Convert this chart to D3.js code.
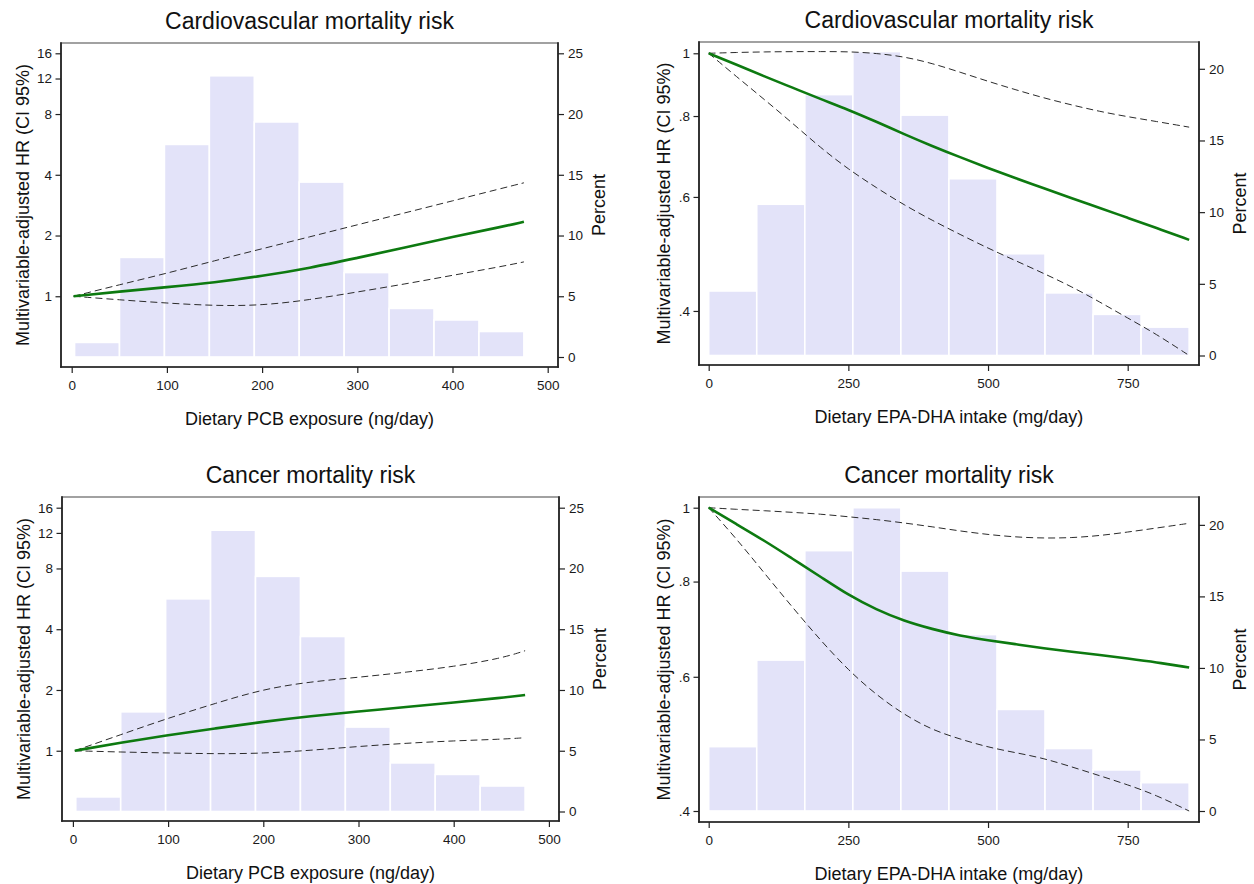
<!DOCTYPE html>
<html>
<head>
<meta charset="utf-8">
<script src="https://cdn.jsdelivr.net/npm/d3@7"></script>
<style>
	body { margin: 0; background: #fff; }
	svg { display: block; font-family: "Liberation Sans", Arial, sans-serif; }
	.tick text { font-size: 13.5px; font-family: "Liberation Sans", Arial, sans-serif; fill: #1a1a1a; }
	.tick line { stroke: #222; stroke-width: 1.2; }
	.titel { font-size: 23px; fill: #111; }
	.as-label { font-size: 18px; fill: #111; }
</style>
</head>
<body>
<svg width="1254" height="884"></svg>
<script>
// histogram bins (edges) and percentages
const pcbEdges = [3, 50.2, 97.4, 144.6, 191.8, 239, 286.2, 333.4, 380.6, 427.8, 475];
const pcbPercent = [1.2, 8.2, 17.5, 23.15, 19.35, 14.4, 6.95, 4.0, 3.05, 2.1];

const epaEdges = [0, 86, 172, 258, 344, 430, 516, 602, 688, 774, 860];
const epaPercent = [4.5, 10.55, 18.2, 21.2, 16.77, 12.33, 7.1, 4.37, 2.87, 1.98];

// spline curves, PCB exposure (ng/day)
const pcbX = [2, 50, 100, 150, 200, 250, 300, 350, 400, 450, 475];
const cvdPcbHR = [1.0, 1.055, 1.11, 1.17, 1.26, 1.38, 1.55, 1.74, 1.97, 2.2, 2.34];
const cvdPcbHi = [1.0, 1.14, 1.30, 1.50, 1.72, 1.97, 2.26, 2.59, 2.97, 3.41, 3.65];
const cvdPcbLo = [1.0, 0.96, 0.925, 0.897, 0.90, 0.96, 1.05, 1.15, 1.27, 1.40, 1.48];

const canPcbHR = [1.0, 1.096, 1.196, 1.291, 1.393, 1.486, 1.565, 1.647, 1.735, 1.828, 1.89];
const canPcbHi = [1.0, 1.20, 1.45, 1.72, 2.02, 2.20, 2.31, 2.45, 2.61, 2.87, 3.13];
const canPcbLo = [1.0, 0.985, 0.975, 0.965, 0.97, 1.005, 1.05, 1.09, 1.12, 1.14, 1.16];

// spline curves, EPA-DHA intake (mg/day)
const epaX = [0, 50, 100, 150, 200, 250, 300, 350, 400, 450, 500, 550, 600, 650, 700, 750, 800, 860];
const cvdEpaHR = [1.0, 0.96, 0.921, 0.885, 0.85, 0.818, 0.784, 0.75, 0.719, 0.691, 0.665, 0.641, 0.619, 0.597, 0.577, 0.557, 0.538, 0.515];
const cvdEpaHi = [1.0, 1.003, 1.005, 1.006, 1.006, 1.006, 1.0, 0.988, 0.965, 0.935, 0.905, 0.878, 0.853, 0.832, 0.813, 0.798, 0.785, 0.769];
const cvdEpaLo = [1.0, 0.92, 0.848, 0.78, 0.715, 0.662, 0.62, 0.583, 0.552, 0.525, 0.50, 0.478, 0.457, 0.436, 0.413, 0.39, 0.369, 0.3414];

const canEpaHR = [1.0, 0.951, 0.905, 0.857, 0.812, 0.768, 0.735, 0.71, 0.693, 0.679, 0.67, 0.662, 0.654, 0.647, 0.641, 0.634, 0.627, 0.617];
const canEpaHi = [1.0, 0.995, 0.991, 0.986, 0.981, 0.973, 0.965, 0.955, 0.944, 0.932, 0.922, 0.915, 0.912, 0.913, 0.919, 0.929, 0.94, 0.954];
const canEpaLo = [1.0, 0.91, 0.82, 0.74, 0.67, 0.612, 0.568, 0.535, 0.511, 0.497, 0.485, 0.477, 0.469, 0.457, 0.445, 0.433, 0.42, 0.40];

// axis ticks
const pcbTicks = [0, 100, 200, 300, 400, 500];
const epaTicks = [0, 250, 500, 750];
const pcbHrTicks = [1, 2, 4, 8, 12, 16];
const epaHrTicks = [0.4, 0.6, 0.8, 1];
const pcbPctTicks = [0, 5, 10, 15, 20, 25];
const epaPctTicks = [0, 5, 10, 15, 20];

const titles = ["Cardiovascular mortality risk", "Cancer mortality risk"];
const pcbLabel = "Dietary PCB exposure (ng/day)";
const epaLabel = "Dietary EPA-DHA intake (mg/day)";
const hrLabel = "Multivariable-adjusted HR (CI 95%)";
const pctLabel = "Percent";

const groen = '#0d7a10';
const kleurBalk = '#e3e3f9';

const svg = d3.select("svg");

const fmtEpa = d => d === 1 ? "1" : d3.format(".1f")(d).replace(/^0/, "");

function tekenPaneel(p) {
	const g = svg.append("g");

	const x = d3.scaleLinear().domain(p.xDomain).range(p.xRange);
	const yHR = d3.scaleLog().domain(p.hrDomain).range([p.bottom, p.top]);
	const yPct = d3.scaleLinear().domain(p.pctDomain).range([p.bottom, p.top]);

	// frame
	g.append("rect")
		.attr("x", p.frame[0])
		.attr("y", p.frame[2])
		.attr("width", p.frame[1] - p.frame[0])
		.attr("height", p.frame[3] - p.frame[2])
		.attr("fill", "none")
		.attr("stroke", "#7a7a7a")
		.attr("stroke-width", 1.4);

	// histogram
	g.append("g").selectAll("rect")
		.data(p.percent)
		.join("rect")
		.attr("x", (d, i) => x(p.edges[i]))
		.attr("width", (d, i) => x(p.edges[i + 1]) - x(p.edges[i]))
		.attr("y", d => yPct(d))
		.attr("height", d => yPct(0) - yPct(d))
		.attr("fill", kleurBalk)
		.attr("stroke", "#fff")
		.attr("stroke-width", 1.6);

	const lijn = d3.line()
		.x((d, i) => x(p.xs[i]))
		.y(d => yHR(d))
		.curve(d3.curveBasis);

	[p.lo, p.hi].forEach(reeks => {
		g.append("path")
			.datum(reeks)
			.attr("d", lijn)
			.attr("fill", "none")
			.attr("stroke", "#2b2b2b")
			.attr("stroke-width", 1)
			.attr("stroke-dasharray", "7,4");
	});

	g.append("path")
		.datum(p.hr)
		.attr("d", lijn)
		.attr("fill", "none")
		.attr("stroke", groen)
		.attr("stroke-width", 2.6);

	// axes
	const zonderDomein = a => a.select(".domain").remove();

	g.append("g")
		.attr("transform", `translate(${p.frame[0]},0)`)
		.call(d3.axisLeft(yHR).tickValues(p.hrTicks).tickFormat(p.hrFormat).tickSize(5.5).tickPadding(3.5))
		.call(zonderDomein);

	g.append("g")
		.attr("transform", `translate(${p.frame[1]},0)`)
		.call(d3.axisRight(yPct).tickValues(p.pctTicks).tickSize(6).tickPadding(4))
		.call(zonderDomein);

	g.append("g")
		.attr("transform", `translate(0,${p.frame[3]})`)
		.call(d3.axisBottom(x).tickValues(p.xTicks).tickSize(6).tickPadding(7.5))
		.call(zonderDomein);

	// axis lines (left, right, bottom drawn darker than the frame)
	const asLijnen = [
		[p.frame[0], p.frame[2], p.frame[0], p.frame[3]],
		[p.frame[1], p.frame[2], p.frame[1], p.frame[3]],
		[p.frame[0], p.frame[3], p.frame[1], p.frame[3]]
	];
	g.append("g").selectAll("line")
		.data(asLijnen)
		.join("line")
		.attr("x1", d => d[0]).attr("y1", d => d[1])
		.attr("x2", d => d[2]).attr("y2", d => d[3])
		.attr("stroke", "#222")
		.attr("stroke-width", 1.7)
		.attr("stroke-linecap", "square");

	const midX = (p.frame[0] + p.frame[1]) / 2;
	const midY = (p.frame[2] + p.frame[3]) / 2;

	g.append("text")
		.attr("class", "titel")
		.attr("text-anchor", "middle")
		.attr("x", midX)
		.attr("y", p.frame[2] - 14.5)
		.text(p.title);

	g.append("text")
		.attr("class", "as-label")
		.attr("text-anchor", "middle")
		.attr("x", midX)
		.attr("y", p.frame[3] + 58)
		.text(p.xLabel);

	g.append("text")
		.attr("class", "as-label")
		.attr("text-anchor", "middle")
		.attr("dy", "0.35em")
		.attr("transform", `translate(${p.yLabelX},${midY}) rotate(-90)`)
		.text(hrLabel);

	g.append("text")
		.attr("class", "as-label")
		.attr("text-anchor", "middle")
		.attr("dy", "0.35em")
		.attr("transform", `translate(${p.pctLabelX},${midY}) rotate(-90)`)
		.text(pctLabel);
}

const panelen = [
	{
		title: titles[0], xLabel: pcbLabel,
		frame: [61, 558, 43, 367], top: 53.3, bottom: 357,
		xDomain: [0, 500], xRange: [71.7, 547.7], xTicks: pcbTicks,
		hrDomain: [0.5, 16], hrTicks: pcbHrTicks, hrFormat: d3.format("d"),
		pctDomain: [0, 25], pctTicks: pcbPctTicks,
		edges: pcbEdges, percent: pcbPercent,
		xs: pcbX, hr: cvdPcbHR, hi: cvdPcbHi, lo: cvdPcbLo,
		yLabelX: 22.5, pctLabelX: 599
	},
	{
		title: titles[0], xLabel: epaLabel,
		frame: [699, 1199, 42, 365], top: 51.6, bottom: 355.5,
		xDomain: [0, 750], xRange: [708.7, 1127.7], xTicks: epaTicks,
		hrDomain: [0.3414, 1.006], hrTicks: epaHrTicks, hrFormat: fmtEpa,
		pctDomain: [0, 21.2], pctTicks: epaPctTicks,
		edges: epaEdges, percent: epaPercent,
		xs: epaX, hr: cvdEpaHR, hi: cvdEpaHi, lo: cvdEpaLo,
		yLabelX: 664, pctLabelX: 1240
	},
	{
		title: titles[1], xLabel: pcbLabel,
		frame: [62, 559, 497, 821], top: 507.7, bottom: 811.5,
		xDomain: [0, 500], xRange: [72.9, 548.9], xTicks: pcbTicks,
		hrDomain: [0.5, 16], hrTicks: pcbHrTicks, hrFormat: d3.format("d"),
		pctDomain: [0, 25], pctTicks: pcbPctTicks,
		edges: pcbEdges, percent: pcbPercent,
		xs: pcbX, hr: canPcbHR, hi: canPcbHi, lo: canPcbLo,
		yLabelX: 23.5, pctLabelX: 600
	},
	{
		title: titles[1], xLabel: epaLabel,
		frame: [699, 1199, 497, 822], top: 507.7, bottom: 811,
		xDomain: [0, 750], xRange: [708.7, 1127.7], xTicks: epaTicks,
		hrDomain: [0.4, 1.0], hrTicks: epaHrTicks, hrFormat: fmtEpa,
		pctDomain: [0, 21.2], pctTicks: epaPctTicks,
		edges: epaEdges, percent: epaPercent,
		xs: epaX, hr: canEpaHR, hi: canEpaHi, lo: canEpaLo,
		yLabelX: 664, pctLabelX: 1240
	}
];

panelen.forEach(tekenPaneel);
</script>
</body>
</html>
